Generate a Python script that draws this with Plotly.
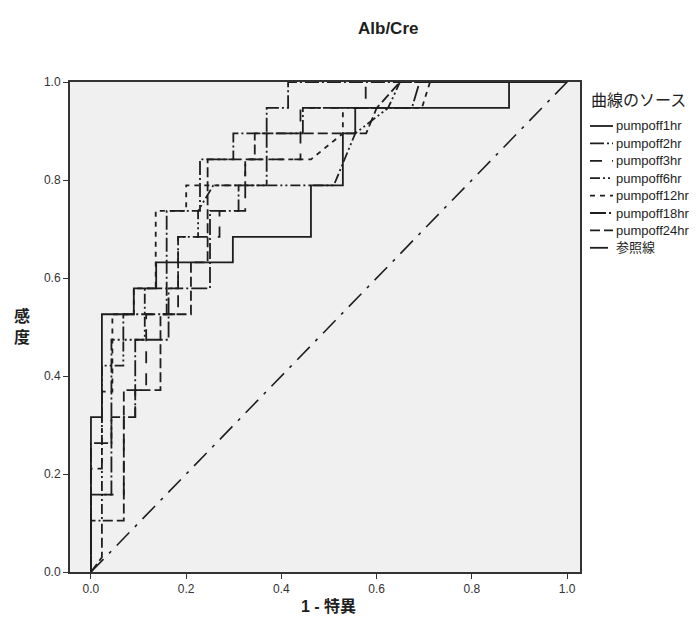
import plotly.graph_objects as go

# ---- data (1 - specificity, sensitivity) ----
series_names = ["pumpoff1hr", "pumpoff2hr", "pumpoff3hr", "pumpoff6hr",
                "pumpoff12hr", "pumpoff18hr", "pumpoff24hr"]

fpr_1hr = [0, 0, 0.023, 0.023, 0.09, 0.09, 0.137, 0.137, 0.298, 0.298, 0.462, 0.462,
           0.529, 0.529, 0.555, 0.555, 0.878, 0.878, 1]
tpr_1hr = [0, 0.316, 0.316, 0.526, 0.526, 0.579, 0.579, 0.632, 0.632, 0.684, 0.684, 0.789,
           0.789, 0.895, 0.895, 0.947, 0.947, 1, 1]

fpr_2hr = [0, 0, 0.043, 0.043, 0.068, 0.068, 0.159, 0.159, 0.229, 0.229, 0.299, 0.299,
           0.369, 0.369, 0.414, 0.414, 1]
tpr_2hr = [0, 0.263, 0.263, 0.474, 0.474, 0.526, 0.526, 0.737, 0.737, 0.842, 0.842, 0.895,
           0.895, 0.947, 0.947, 1, 1]

fpr_3hr = [0, 0, 0.069, 0.069, 0.093, 0.093, 0.116, 0.116, 0.183, 0.183, 0.27, 0.27,
           0.324, 0.324, 0.44, 0.44, 0.577, 0.577, 1]
tpr_3hr = [0, 0.158, 0.158, 0.316, 0.316, 0.371, 0.371, 0.526, 0.526, 0.684, 0.684, 0.737,
           0.737, 0.842, 0.842, 0.947, 0.947, 1, 1]

fpr_6hr = [0, 0, 0.023, 0.023, 0.068, 0.068, 0.113, 0.113, 0.183, 0.183, 0.225, 0.225,
           0.257, 0.5, 0.5, 0.51, 0.555, 0.624, 0.649, 1]
tpr_6hr = [0, 0.105, 0.105, 0.421, 0.421, 0.474, 0.474, 0.579, 0.579, 0.684, 0.684, 0.737,
           0.789, 0.789, 0.789, 0.789, 0.895, 0.947, 1, 1]

fpr_12hr = [0, 0, 0.023, 0.023, 0.045, 0.045, 0.09, 0.09, 0.136, 0.136, 0.2, 0.2,
            0.324, 0.324, 0.462, 0.529, 0.529, 0.695, 0.712, 1]
tpr_12hr = [0, 0.211, 0.211, 0.368, 0.368, 0.526, 0.526, 0.579, 0.579, 0.737, 0.737, 0.789,
            0.789, 0.842, 0.842, 0.895, 0.947, 0.947, 1, 1]

fpr_18hr = [0, 0, 0.043, 0.043, 0.093, 0.093, 0.163, 0.163, 0.25, 0.25, 0.31, 0.31,
            0.369, 0.369, 0.445, 0.445, 0.674, 0.69, 1]
tpr_18hr = [0, 0.158, 0.158, 0.316, 0.316, 0.474, 0.474, 0.579, 0.579, 0.737, 0.737, 0.789,
            0.789, 0.895, 0.895, 0.947, 0.947, 1, 1]

fpr_24hr = [0, 0.023, 0.023, 0.069, 0.069, 0.146, 0.146, 0.21, 0.21, 0.245, 0.245, 0.344,
            0.344, 0.578, 0.6, 0.649, 1]
tpr_24hr = [0, 0.03, 0.105, 0.105, 0.371, 0.371, 0.526, 0.526, 0.632, 0.632, 0.842, 0.842,
            0.895, 0.895, 0.947, 1, 1]

ref_x = [0, 1]
ref_y = [0, 1]

x_ticks = [0.0, 0.2, 0.4, 0.6, 0.8, 1.0]
y_ticks = [0.0, 0.2, 0.4, 0.6, 0.8, 1.0]
tick_text = ["0.0", "0.2", "0.4", "0.6", "0.8", "1.0"]

# ---- styles ----
FONT = "Liberation Sans, Arial, Noto Sans CJK JP, sans-serif"
INK = "#1e1e1e"
dashes = {
    "pumpoff1hr": "solid",
    "pumpoff2hr": "14px,3px,2px,3px",
    "pumpoff3hr": "12px,10px",
    "pumpoff6hr": "10px,3px,2px,3px,2px,3px",
    "pumpoff12hr": "5px,5px",
    "pumpoff18hr": "16px,3px,2px,3px",
    "pumpoff24hr": "10px,4px",
}
ref_dash = "18px,8px,3px,8px"

xs = [fpr_1hr, fpr_2hr, fpr_3hr, fpr_6hr, fpr_12hr, fpr_18hr, fpr_24hr]
ys = [tpr_1hr, tpr_2hr, tpr_3hr, tpr_6hr, tpr_12hr, tpr_18hr, tpr_24hr]

fig = go.Figure()
for name, x, y in zip(series_names, xs, ys):
    fig.add_trace(go.Scatter(x=x, y=y, mode="lines", name=name,
                             line=dict(color=INK, width=1.8, dash=dashes[name]),
                             showlegend=False))
fig.add_trace(go.Scatter(x=ref_x, y=ref_y, mode="lines", name="参照線",
                         line=dict(color=INK, width=1.6, dash=ref_dash),
                         showlegend=False))

# ---- layout geometry (page offset of 8px from body margin) ----
OFF = 8
W, H = 697, 628
PL, PR, PT, PB = 70, 580, 82, 572          # plot box in page pixels
L, T = PL - OFF, PT - OFF
R, B = W - (PR - OFF), H - (PB - OFF)
pw, ph = W - L - R, H - T - B


def px_x(p):
    return (p - OFF - L) / pw


def px_y(p):
    return 1 - (p - OFF - T) / ph


legend_labels = series_names + ["参照線"]
legend_dashes = [dashes[n] for n in series_names] + [ref_dash]
shapes = []
annotations = []
annotations.append(dict(x=px_x(589), y=px_y(100), xref="paper", yref="paper",
                        text="曲線のソース", showarrow=False, xanchor="left",
                        yanchor="middle", font=dict(family=FONT, size=16, color=INK)))
for i, (lab, dsh) in enumerate(zip(legend_labels, legend_dashes)):
    yy = 126 + i * 17.4
    shapes.append(dict(type="line", xref="paper", yref="paper",
                       x0=px_x(590), x1=px_x(613), y0=px_y(yy), y1=px_y(yy),
                       line=dict(color=INK, width=1.8, dash=dsh)))
    annotations.append(dict(x=px_x(614), y=px_y(yy), xref="paper", yref="paper",
                            text=lab, showarrow=False, xanchor="left", yanchor="middle",
                            font=dict(family=FONT, size=13, color=INK)))

# y-axis title (stacked vertical characters)
annotations.append(dict(x=px_x(22), y=px_y(326), xref="paper", yref="paper",
                        text="<b>感</b><br><b>度</b>", showarrow=False,
                        xanchor="center", yanchor="middle",
                        font=dict(family=FONT, size=16, color=INK)))
# x-axis title
annotations.append(dict(x=px_x(328), y=px_y(606), xref="paper", yref="paper",
                        text="<b>1 - 特異</b>", showarrow=False,
                        xanchor="center", yanchor="middle",
                        font=dict(family=FONT, size=16, color=INK)))
# title
annotations.append(dict(x=px_x(388), y=px_y(28), xref="paper", yref="paper",
                        text="<b>Alb/Cre</b>", showarrow=False,
                        xanchor="center", yanchor="middle",
                        font=dict(family=FONT, size=17, color=INK)))

axis_common = dict(showgrid=False, zeroline=False, showline=True, linecolor="#333333",
                   linewidth=2, mirror=True, ticks="outside", ticklen=5, tickwidth=1,
                   tickcolor="#333333", tickfont=dict(family=FONT, size=12, color="#333333"))

fig.update_layout(
    width=W, height=H,
    margin=dict(l=L, r=R, t=T, b=B, pad=0),
    paper_bgcolor="white",
    plot_bgcolor="#f0f0f0",
    showlegend=False,
    shapes=shapes,
    annotations=annotations,
    xaxis=dict(range=[-0.044, 1.027], tickvals=x_ticks, ticktext=tick_text, **axis_common),
    yaxis=dict(range=[0, 1], tickvals=y_ticks, ticktext=tick_text, **axis_common),
)

fig.write_html("out.html")
